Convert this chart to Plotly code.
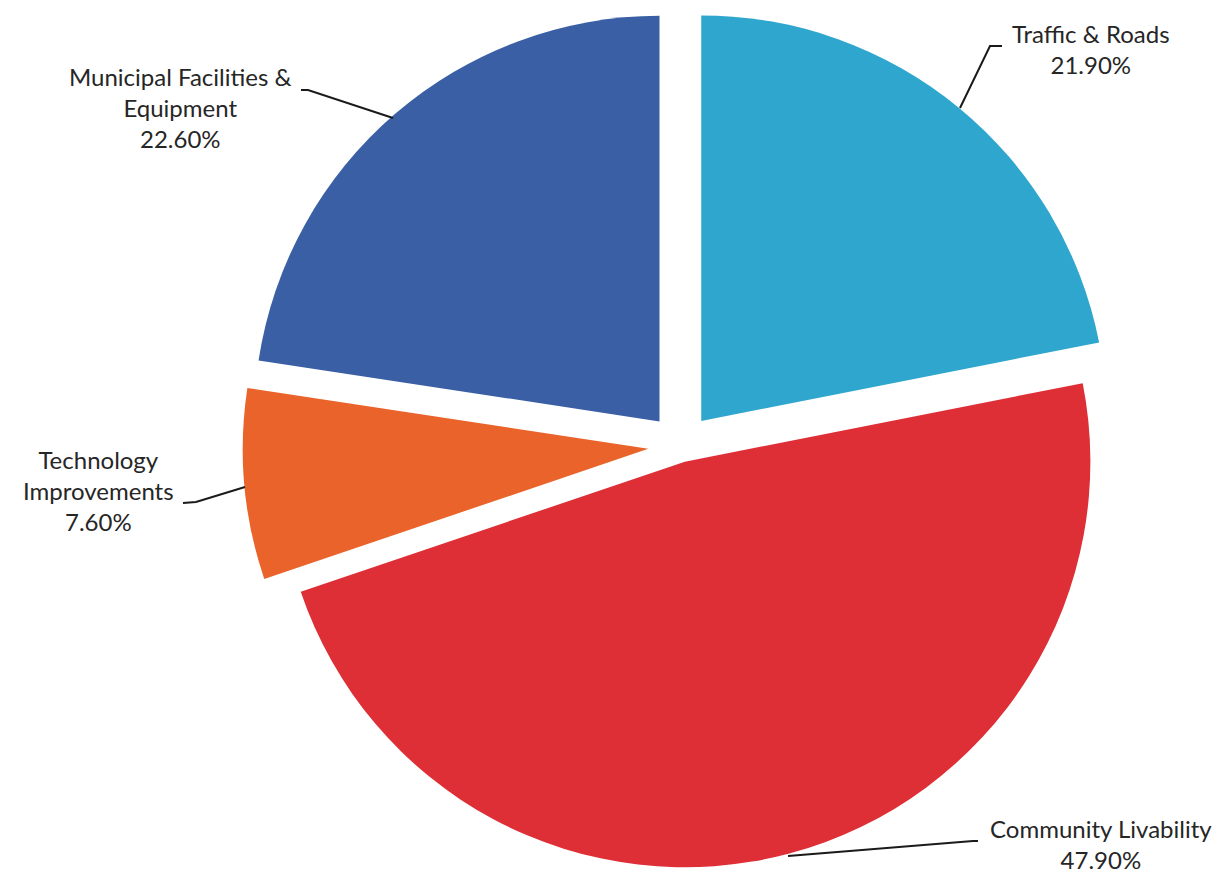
import plotly.graph_objects as go

# ---- data ----
categories = ["Traffic & Roads", "Community Livability", "Technology Improvements",
              "Municipal Facilities & Equipment"]
values = [21.9, 47.9, 7.6, 22.6]
label_text = ["Traffic & Roads<br>21.90%", "Community Livability<br>47.90%",
              "Technology<br>Improvements<br>7.60%", "Municipal Facilities &<br>Equipment<br>22.60%"]

# ---- styling ----
colors = ["#2fa6cd", "#de2f37", "#e9632a", "#3a5fa5"]
pulls = [0.08, 0.04, 0.08, 0.08]

W, H = 1223, 876

fig = go.Figure()
fig.add_trace(go.Pie(
    labels=categories,
    values=values,
    sort=False,
    direction="clockwise",
    rotation=0,
    pull=pulls,
    marker=dict(colors=colors, line=dict(width=0)),
    textinfo="none",
    hoverinfo="label+percent",
    showlegend=False,
    domain=dict(x=[0.19, 0.91], y=[0.0, 1.0]),
))

def px(x, y):
    return x / W, 1 - y / H

# label text positions (pixel centres) and leader line polylines (pixels)
label_pos = [(1083, 41), (1093, 836), (90, 482), (172, 100)]
leaders = [
    [(994, 38), (982, 38), (952, 100)],
    [(970, 833), (965, 833), (780, 848)],
    [(175, 495), (188, 494), (237, 479)],
    [(293, 82), (300, 82), (385, 110)],
]

for txt, (lx, ly) in zip(label_text, label_pos):
    ax_, ay_ = px(lx, ly)
    fig.add_annotation(x=ax_, y=ay_, xref="paper", yref="paper", text=txt,
                       xanchor="center", yanchor="middle",
                       showarrow=False, align="center",
                       font=dict(family="Lato, Open Sans, sans-serif", size=24, color="#262626"))

for pts in leaders:
    p = [px(x, y) for x, y in pts]
    path = "M " + " L ".join(f"{a:.5f},{b:.5f}" for a, b in p)
    fig.add_shape(type="path", path=path, xref="paper", yref="paper",
                  line=dict(color="#1a1a1a", width=2))

fig.update_layout(
    width=W, height=H,
    margin=dict(l=0, r=0, t=0, b=0),
    paper_bgcolor="white",
    plot_bgcolor="white",
)

fig.write_html("out.html")
